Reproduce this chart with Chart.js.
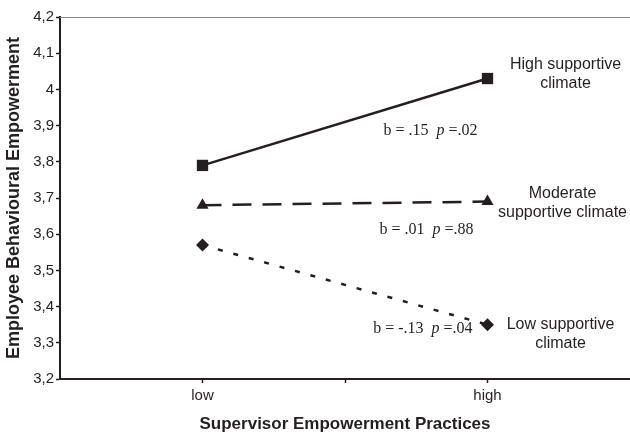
<!DOCTYPE html>
<html>
<head>
<meta charset="utf-8">
<script src="https://cdn.jsdelivr.net/npm/chart.js@4/dist/chart.umd.min.js"></script>
<style>
  html, body { margin: 0; padding: 0; background: #fff; }
  #wrap { width: 630px; height: 435px; }
</style>
</head>
<body>
<div id="wrap"><canvas id="myChart" width="630" height="435"></canvas></div>
<script>
// data
var xLevels = [1, 3];               // low, high
var xTickLabels = { 1: 'low', 2: '', 3: 'high' };
var highClimate = [3.79, 4.03];
var moderateClimate = [3.68, 3.69];
var lowClimate = [3.57, 3.35];
var seriesNames = ['High supportive climate', 'Moderate supportive climate', 'Low supportive climate'];
var slopeB = ['.15', '.01', '-.13'];
var slopeP = ['.02', '.88', '.04'];

function toPoints(vals) {
    return vals.map(function (v, i) { return { x: xLevels[i], y: v }; });
}

var ink = '#231f20';
var sans = '"Liberation Sans", Arial, sans-serif';
var serif = '"Liberation Serif", "Times New Roman", serif';

// text beside each line: name lines + slope stats (offsets from the 'high' point)
var notes = [
    { name: ['High supportive', 'climate'], nameDx: 78, nameDy: -14, statDx: -10, statDy: 52 },
    { name: ['Moderate', 'supportive climate'], nameDx: 75, nameDy: -8, statDx: -14, statDy: 28 },
    { name: ['Low supportive', 'climate'], nameDx: 73, nameDy: 0, statDx: -15, statDy: 4 }
];

var notesPlugin = {
    id: 'notes',
    afterDatasetsDraw: function (chart) {
        var ctx = chart.ctx;
        var area = chart.chartArea;
        ctx.save();
        // top border of the plot
        ctx.strokeStyle = '#8a8a8a';
        ctx.lineWidth = 1;
        ctx.beginPath();
        ctx.moveTo(area.left, area.top + 0.5);
        ctx.lineTo(area.right, area.top + 0.5);
        ctx.stroke();

        chart.data.datasets.forEach(function (ds, i) {
            var el = chart.getDatasetMeta(i).data[1];
            var n = notes[i];
            ctx.fillStyle = ink;
            ctx.textAlign = 'center';
            ctx.textBaseline = 'middle';
            ctx.font = '16px ' + sans;
            n.name.forEach(function (line, k) {
                ctx.fillText(line, el.x + n.nameDx, el.y + n.nameDy + k * 19);
            });
            // stats in serif, p italic, right aligned
            var y = el.y + n.statDy;
            var right = el.x + n.statDx;
            var part1 = 'b = ' + slopeB[i] + '  ';
            var part2 = 'p';
            var part3 = ' =' + slopeP[i];
            ctx.textAlign = 'left';
            ctx.font = '16px ' + serif;
            var w1 = ctx.measureText(part1).width;
            var w3 = ctx.measureText(part3).width;
            ctx.font = 'italic 16px ' + serif;
            var w2 = ctx.measureText(part2).width;
            var x = right - (w1 + w2 + w3);
            ctx.font = '16px ' + serif;
            ctx.fillText(part1, x, y);
            ctx.font = 'italic 16px ' + serif;
            ctx.fillText(part2, x + w1, y);
            ctx.font = '16px ' + serif;
            ctx.fillText(part3, x + w1 + w2, y);
        });
        ctx.restore();
    }
};

var ctx = document.getElementById('myChart').getContext('2d');
var chart = new Chart(ctx, {
    type: 'line',
    data: {
        datasets: [
            {
                label: seriesNames[0],
                data: toPoints(highClimate),
                borderColor: ink,
                backgroundColor: ink,
                borderWidth: 2.5,
                pointStyle: 'rect',
                pointRadius: 8,
                pointBorderWidth: 0
            },
            {
                label: seriesNames[1],
                data: toPoints(moderateClimate),
                borderColor: ink,
                backgroundColor: ink,
                borderWidth: 2.5,
                borderDash: [19, 11],
                pointStyle: 'triangle',
                pointRadius: 7,
                pointBorderWidth: 0
            },
            {
                label: seriesNames[2],
                data: toPoints(lowClimate),
                borderColor: ink,
                backgroundColor: ink,
                borderWidth: 2.5,
                borderDash: [5, 11],
                pointStyle: 'rectRot',
                pointRadius: 6.5,
                pointBorderWidth: 0
            }
        ]
    },
    options: {
        responsive: false,
        animation: false,
        layout: { autoPadding: false, padding: { top: 17, right: 0, left: 0, bottom: 0 } },
        plugins: {
            legend: { display: false },
            tooltip: { enabled: false }
        },
        elements: { line: { tension: 0 } },
        scales: {
            x: {
                type: 'linear',
                min: 0,
                max: 4,
                afterBuildTicks: function (scale) {
                    scale.ticks = [{ value: 1 }, { value: 2 }, { value: 3 }];
                },
                afterFit: function (scale) {
                    scale.height = 56;
                },
                grid: { drawOnChartArea: false, drawTicks: true, tickLength: 4, tickColor: ink, tickWidth: 1.5 },
                border: { color: ink, width: 2 },
                ticks: {
                    autoSkip: false,
                    maxRotation: 0,
                    padding: 4,
                    color: ink,
                    font: { family: sans, size: 15 },
                    callback: function (v) { return xTickLabels[v] || ''; }
                },
                title: {
                    display: true,
                    text: 'Supervisor Empowerment Practices',
                    color: ink,
                    padding: { top: 3, bottom: 0 },
                    font: { family: sans, size: 17, weight: 'bold' }
                }
            },
            y: {
                min: 3.2,
                max: 4.2,
                afterFit: function (scale) { scale.width = 60; },
                grid: { drawOnChartArea: false, drawTicks: true, tickLength: 4, tickColor: ink, tickWidth: 1.5 },
                border: { color: ink, width: 2 },
                ticks: {
                    stepSize: 0.1,
                    padding: 2,
                    color: ink,
                    font: { family: sans, size: 15 },
                    callback: function (v) { return String(Math.round(v * 10) / 10).replace('.', ','); }
                },
                title: {
                    display: true,
                    text: 'Employee Behavioural Empowerment',
                    color: ink,
                    padding: { top: 3, bottom: 0 },
                    font: { family: sans, size: 18, weight: 'bold' }
                }
            }
        }
    },
    plugins: [notesPlugin]
});
</script>
</body>
</html>
